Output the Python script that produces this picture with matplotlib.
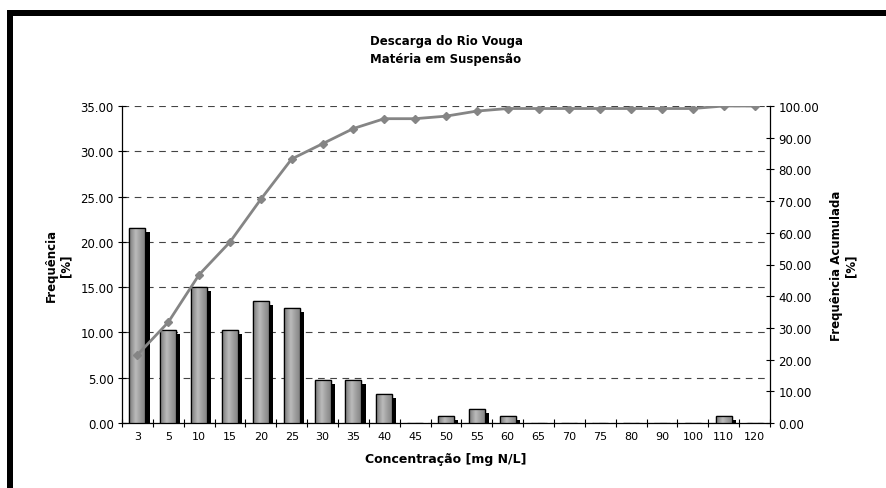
import matplotlib
matplotlib.use("Agg")
import matplotlib.pyplot as plt
import matplotlib.patheffects as pe
from matplotlib.patches import Rectangle
import numpy as np

# donnees
concentracao = ["3", "5", "10", "15", "20", "25", "30", "35", "40", "45", "50",
                "55", "60", "65", "70", "75", "80", "90", "100", "110", "120"]
frequencia = [21.5, 10.3, 15.0, 10.3, 13.5, 12.7, 4.8, 4.8, 3.2, 0.0, 0.8,
              1.6, 0.8, 0.0, 0.0, 0.0, 0.0, 0.0, 0.0, 0.8, 0.0]
freq_acumulada = [21.5, 31.8, 46.8, 57.1, 70.6, 83.3, 88.1, 92.9, 96.0, 96.0, 96.8,
                  98.4, 99.2, 99.2, 99.2, 99.2, 99.2, 99.2, 99.2, 100.0, 100.0]

plt.rcParams['font.family'] = ['DejaVu Sans']
fs = 8.5

fig = plt.figure(figsize=(8.86, 4.89), dpi=100)
ax = fig.add_axes([122 / 886, 1 - 424 / 489, (770 - 122) / 886, (424 - 107) / 489])

x = np.arange(len(concentracao))
largura = 0.52

# barres avec ombre noire
bars = ax.bar(x, frequencia, width=largura, color='#a0a0a0', edgecolor='black',
              linewidth=0.9, zorder=3,
              path_effects=[pe.SimplePatchShadow(offset=(3, -3), shadow_rgbFace='black', alpha=1.0),
                            pe.Normal()])

# degrade sur chaque barre (effet cylindre)
grad = np.concatenate([np.linspace(0.48, 0.72, 8), np.linspace(0.72, 0.50, 12)])[None, :]
for b in bars:
    h = b.get_height()
    if h <= 0:
        continue
    im = ax.imshow(grad, extent=[b.get_x(), b.get_x() + b.get_width(), 0, h],
                   aspect='auto', cmap='gray', vmin=0, vmax=1, zorder=3.5)
    im.set_clip_path(b)
    ax.add_patch(Rectangle((b.get_x(), 0), b.get_width(), h, fill=False,
                           edgecolor='black', linewidth=0.9, zorder=3.6))

ax.set_xlim(-0.5, len(concentracao) - 0.5)
ax.set_ylim(0, 35)
ax.set_yticks(np.arange(0, 36, 5))
ax.set_yticklabels([f"{v:.2f}" for v in np.arange(0, 36, 5)], fontsize=fs)
ax.set_xticks(x)
ax.set_xticklabels(concentracao, fontsize=fs - 0.5)
ax.set_xticks(np.arange(-0.5, len(concentracao)), minor=True)
ax.tick_params(axis='x', which='major', length=0, pad=6)
ax.tick_params(axis='x', which='minor', direction='inout', length=6, width=0.8)
ax.tick_params(axis='y', direction='inout', length=6, width=0.8, pad=3)
ax.yaxis.grid(True, linestyle=(0, (6, 5)), color='#444444', linewidth=0.8, zorder=0)
ax.set_axisbelow(True)
ax.spines['top'].set_visible(False)
ax.spines['right'].set_visible(False)
for s in ['left', 'bottom']:
    ax.spines[s].set_linewidth(0.9)

ax.set_ylabel("Frequência\n[%]", fontsize=fs, fontweight='bold', labelpad=6, linespacing=1.1)
ax.set_xlabel("Concentração [mg N/L]", fontsize=fs + 0.5, fontweight='bold', labelpad=8)

# axe secondaire : frequence cumulee
ax2 = ax.twinx()
ax2.plot(x, freq_acumulada, color='#858585', linewidth=2, marker='D', markersize=4,
         markerfacecolor='#858585', markeredgecolor='#858585', zorder=5)
ax2.set_ylim(0, 100)
ax2.set_yticks(np.arange(0, 101, 10))
ax2.set_yticklabels([f"{v:.2f}" for v in np.arange(0, 101, 10)], fontsize=fs)
ax2.tick_params(axis='y', direction='inout', length=6, width=0.8, pad=3)
ax2.spines['top'].set_visible(False)
ax2.spines['left'].set_visible(False)
ax2.spines['bottom'].set_visible(False)
ax2.spines['right'].set_linewidth(0.9)
ax2.set_ylabel("Frequência Acumulada\n[%]", fontsize=fs, fontweight='bold', labelpad=8,
               linespacing=1.1)

ax.set_title("Descarga do Rio Vouga\nMatéria em Suspensão", fontsize=fs, fontweight='bold',
             pad=32, linespacing=1.5)

# cadre noir (haut et gauche)
fig.patches.append(Rectangle((7 / 886, 1 - 17 / 489), 1, 6 / 489, transform=fig.transFigure,
                             facecolor='black', edgecolor='none'))
fig.patches.append(Rectangle((7 / 886, 0), 6 / 886, 1 - 11 / 489, transform=fig.transFigure,
                             facecolor='black', edgecolor='none'))

fig.savefig("out.png", dpi=100)
